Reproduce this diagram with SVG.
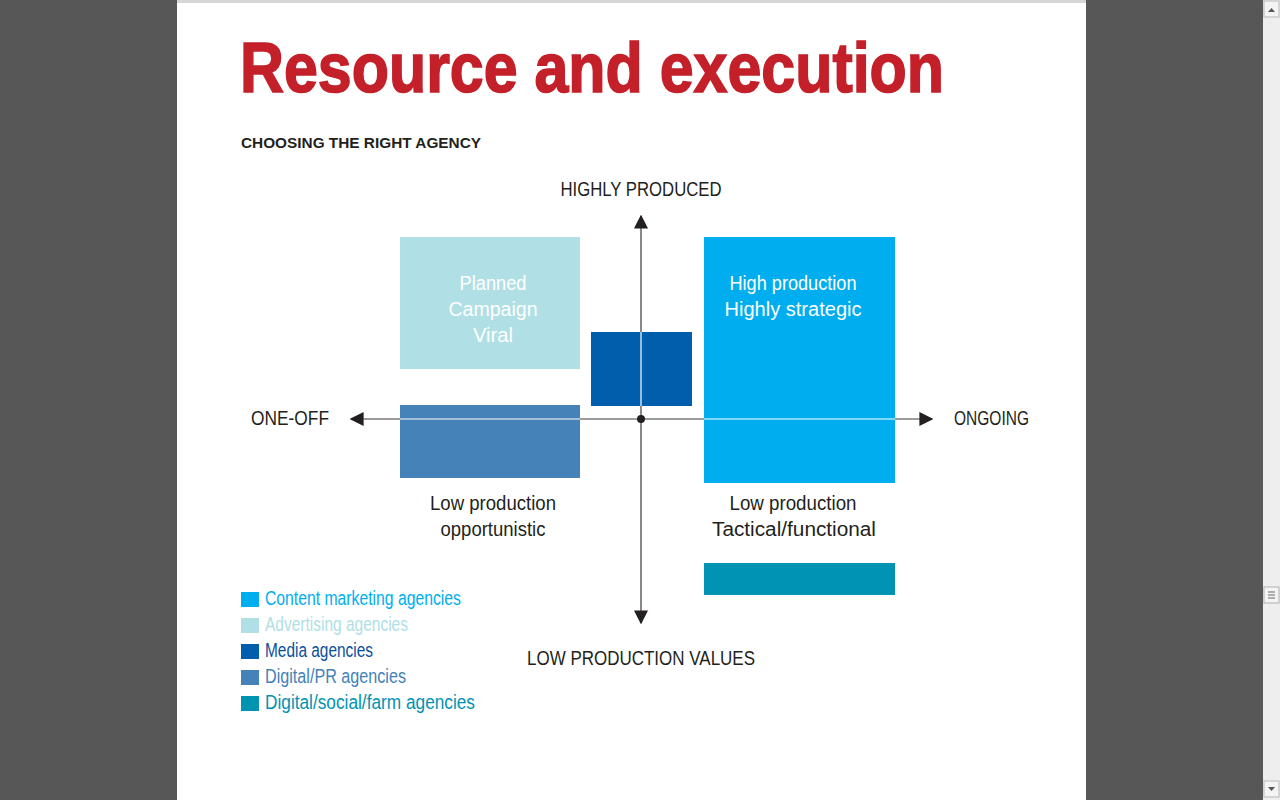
<svg xmlns="http://www.w3.org/2000/svg" width="1280" height="800" viewBox="0 0 1280 800">
<defs>
<style>
.hw{font-family:"Liberation Sans Narrow","Liberation Sans",sans-serif;font-size:20px;}
.wt{fill:#ffffff;}
.dk{fill:#231f20;}
.axis{stroke:#3a3a3a;stroke-width:1.2;fill:none;}
.wl{stroke:#ffffff;stroke-width:1.2;fill:none;}
</style>
<marker id="ah" viewBox="0 0 10 10" refX="9" refY="5" markerWidth="14" markerHeight="14" markerUnits="userSpaceOnUse" orient="auto">
<path d="M0,0 L10,5 L0,10 Z" fill="#231f20"/>
</marker>
</defs>
<rect x="0" y="0" width="1280" height="800" fill="#575757"/>
<rect x="177" y="0" width="909" height="800" fill="#ffffff"/>
<rect x="177" y="0" width="909" height="3" fill="#d6d6d6"/>
<g id="scrollbar">
<rect x="1263" y="0" width="17" height="800" fill="#eeeeee"/>
<rect x="1264" y="1" width="15" height="16" fill="#f4f4f4" stroke="#b8b8b8" stroke-width="1"/>
<path d="M1268,12 L1271.5,8 L1275,12 Z" fill="#555"/>
<rect x="1264" y="587" width="15" height="16" fill="#f4f4f4" stroke="#b0b0b0" stroke-width="1"/>
<path d="M1268,592 h7 M1268,595 h7 M1268,598 h7" stroke="#666" stroke-width="1"/>
<rect x="1264" y="781" width="15" height="16" fill="#f4f4f4" stroke="#b8b8b8" stroke-width="1"/>
<path d="M1268,787 L1271.5,791 L1275,787 Z" fill="#555"/>
</g>
<g id="title">
<text x="240" y="92" font-family="'Liberation Sans Narrow','Liberation Sans',sans-serif" font-weight="bold" font-size="70" fill="#c4202a" stroke="#c4202a" stroke-width="1.6" textLength="704" lengthAdjust="spacingAndGlyphs">Resource and execution</text>
<text x="241" y="148" font-family="'Liberation Sans',sans-serif" font-weight="bold" font-size="15.5" fill="#231f20" textLength="240" lengthAdjust="spacingAndGlyphs">CHOOSING THE RIGHT AGENCY</text>
</g>
<g id="connectors">
<path class="axis" d="M641,419 L641,216" marker-end="url(#ah)"/>
<path class="axis" d="M641,419 L641,623" marker-end="url(#ah)"/>
<path class="axis" d="M641,419 L351,419" marker-end="url(#ah)"/>
<path class="axis" d="M641,419 L932,419" marker-end="url(#ah)"/>
</g>
<g id="node-advertising">
<rect x="400" y="237" width="180" height="132" fill="#b0dfe5"/>
<text class="hw wt" text-anchor="middle" x="493" y="290" textLength="67" lengthAdjust="spacingAndGlyphs">Planned</text>
<text class="hw wt" text-anchor="middle" x="493" y="316" textLength="89" lengthAdjust="spacingAndGlyphs">Campaign</text>
<text class="hw wt" text-anchor="middle" x="493" y="342" textLength="40" lengthAdjust="spacingAndGlyphs">Viral</text>
</g>
<g id="node-media">
<rect x="591" y="332" width="101" height="74" fill="#005eac"/>
<path class="wl" d="M641,332 L641,406"/>
</g>
<g id="node-content">
<rect x="704" y="237" width="191" height="246" fill="#00aeef"/>
<path class="wl" d="M704,419 L895,419"/>
<text class="hw wt" text-anchor="middle" x="793" y="290" textLength="127" lengthAdjust="spacingAndGlyphs">High production</text>
<text class="hw wt" text-anchor="middle" x="793" y="316" textLength="137" lengthAdjust="spacingAndGlyphs">Highly strategic</text>
</g>
<g id="node-pr">
<rect x="400" y="405" width="180" height="73" fill="#4482b8"/>
<path class="wl" d="M400,419 L580,419"/>
</g>
<g id="node-farm">
<rect x="704" y="563" width="191" height="32" fill="#0093b2"/>
</g>
<circle cx="641" cy="419" r="4" fill="#231f20"/>
<g id="axis-labels">
<text class="hw dk" text-anchor="middle" x="641" y="196" textLength="161" lengthAdjust="spacingAndGlyphs">HIGHLY PRODUCED</text>
<text class="hw dk" x="251" y="425" textLength="78" lengthAdjust="spacingAndGlyphs">ONE-OFF</text>
<text class="hw dk" x="954" y="425" textLength="75" lengthAdjust="spacingAndGlyphs">ONGOING</text>
<text class="hw dk" x="527" y="665" textLength="228" lengthAdjust="spacingAndGlyphs">LOW PRODUCTION VALUES</text>
</g>
<g id="quadrant-labels">
<text class="hw dk" text-anchor="middle" x="493" y="510" textLength="126" lengthAdjust="spacingAndGlyphs">Low production</text>
<text class="hw dk" text-anchor="middle" x="493" y="536" textLength="105" lengthAdjust="spacingAndGlyphs">opportunistic</text>
<text class="hw dk" text-anchor="middle" x="793" y="510" textLength="127" lengthAdjust="spacingAndGlyphs">Low production</text>
<text class="hw dk" text-anchor="middle" x="794" y="536" textLength="164" lengthAdjust="spacingAndGlyphs">Tactical/functional</text>
</g>
<g id="legend">
<rect x="241" y="592" width="18" height="15" fill="#00aeef"/>
<text class="hw" x="265" y="605" font-size="18" fill="#00aeef" textLength="196" lengthAdjust="spacingAndGlyphs">Content marketing agencies</text>
<rect x="241" y="618" width="18" height="15" fill="#b0dfe5"/>
<text class="hw" x="265" y="631" font-size="18" fill="#b0dfe5" textLength="143" lengthAdjust="spacingAndGlyphs">Advertising agencies</text>
<rect x="241" y="644" width="18" height="15" fill="#005eac"/>
<text class="hw" x="265" y="657" font-size="18" fill="#0a4f9e" textLength="108" lengthAdjust="spacingAndGlyphs">Media agencies</text>
<rect x="241" y="670" width="18" height="15" fill="#4482b8"/>
<text class="hw" x="265" y="683" font-size="18" fill="#4482b8" textLength="141" lengthAdjust="spacingAndGlyphs">Digital/PR agencies</text>
<rect x="241" y="696" width="18" height="15" fill="#0093b2"/>
<text class="hw" x="265" y="709" font-size="18" fill="#0093b2" textLength="210" lengthAdjust="spacingAndGlyphs">Digital/social/farm agencies</text>
</g>
</svg>
